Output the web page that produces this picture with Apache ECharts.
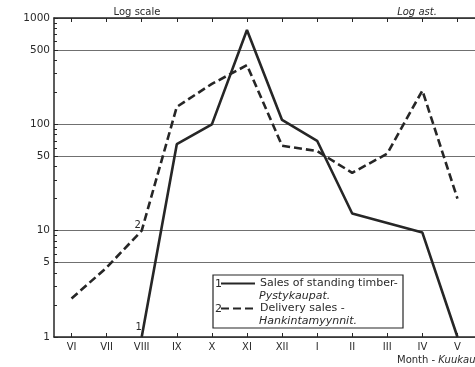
<!DOCTYPE html>
<html><head><meta charset="utf-8">
<script src="https://cdn.jsdelivr.net/npm/echarts@6/dist/echarts.min.js"></script>
<style>html,body{margin:0;padding:0;background:#fff}#c{width:475px;height:367px}</style>
</head><body><div id="c"></div>
<script>
const months = ['VI','VII','VIII','IX','X','XI','XII','I','II','III','IV','V'];
const standingTimber = [null, null, 1, 65, 100, 770, 110, 70, 14.5, 11.8, 9.6, 1];
const deliverySales = [2.3, 4.5, 10, 146, 240, 360, 63, 56, 35, 53, 208, 20];
const yLabelValues = [1, 5, 10, 50, 100, 500, 1000];
const yMinorValues = [2,3,4,6,7,8,9,20,30,40,60,70,80,90,200,300,400,600,700,800,900];
const seriesNames = ['Sales of standing timber-', 'Delivery sales -'];
const seriesNamesFi = ['Pystykaupat.', 'Hankintamyynnit.'];

const ink = '#262626';
const txt = '#2a2a2a';
const font = 'DejaVu Sans, Verdana, sans-serif';

const chart = echarts.init(document.getElementById('c'), null, {renderer: 'canvas'});
chart.setOption({
  backgroundColor: '#fff',
  animation: false,
  textStyle: {fontFamily: font, color: txt},
  title: [
    {text: 'Log scale', left: 132, top: 2, textAlign: 'center',
     textStyle: {fontSize: 10, fontWeight: 'normal', color: txt, fontFamily: font}},
    {text: 'Log ast.', left: 412, top: 2, textAlign: 'center',
     textStyle: {fontSize: 10, fontWeight: 'normal', fontStyle: 'italic', color: txt, fontFamily: font}},
    {text: '{a|Month - }{b|Kuukausi}', left: 392, top: 350,
     textStyle: {fontSize: 10, fontWeight: 'normal', color: txt, fontFamily: font,
       rich: {a: {fontSize: 10, color: txt, fontFamily: font}, b: {fontSize: 10, color: txt, fontStyle: 'italic', fontFamily: font}}}}
  ],
  grid: {left: 54, top: 18, width: 433, height: 319, containLabel: false, show: false},
  legend: {
    orient: 'vertical', left: 213, top: 275,
    padding: [3, 5, 3, 7],
    itemWidth: 34, itemHeight: 12, itemGap: 14,
    itemStyle: {opacity: 0},
    textStyle: {fontSize: 11, color: txt, fontFamily: font},
    data: seriesNames,
    selectedMode: false
  },
  xAxis: [
    {type: 'category', data: months, position: 'bottom', boundaryGap: true,
     axisLine: {show: true, lineStyle: {color: ink, width: 1.5}},
     axisTick: {show: true, inside: true, alignWithLabel: true, length: 4, lineStyle: {color: ink}},
     axisLabel: {show: true, fontSize: 10, color: txt, fontFamily: font, margin: 5},
     splitLine: {show: false}},
    {type: 'category', data: months, position: 'top', boundaryGap: true,
     axisLine: {show: true, lineStyle: {color: ink, width: 1.5}},
     axisTick: {show: true, inside: true, alignWithLabel: true, length: 4, lineStyle: {color: ink}},
     axisLabel: {show: false}, splitLine: {show: false}}
  ],
  yAxis: [
    {type: 'log', logBase: 10, min: 1, max: 1000, position: 'left',
     axisLine: {show: true, lineStyle: {color: ink, width: 1.5}},
     axisTick: {show: true, inside: true, length: 4, customValues: yLabelValues, lineStyle: {color: ink}},
     axisLabel: {show: true, fontSize: 10.5, color: txt, fontFamily: font, margin: 4,
       customValues: yLabelValues, formatter: v => String(Math.round(v))},
     splitLine: {show: true, lineStyle: {color: '#707070', width: 1}}},
    {type: 'log', logBase: 10, min: 1, max: 1000, position: 'left',
     axisLine: {show: false},
     axisTick: {show: true, inside: true, length: 3, customValues: yMinorValues, lineStyle: {color: ink}},
     axisLabel: {show: false}, splitLine: {show: false}}
  ],
  series: [
    {name: seriesNames[0], type: 'line', data: standingTimber, xAxisIndex: 0, yAxisIndex: 0,
     symbol: 'none', lineStyle: {color: ink, width: 2.6}, itemStyle: {color: ink},
     markPoint: {symbol: 'circle', symbolSize: 1, itemStyle: {color: 'rgba(0,0,0,0)'},
       label: {show: true, formatter: '1', position: 'top', offset: [-3, 0], distance: 4, fontSize: 10, color: txt, fontFamily: font},
       data: [{coord: [months[2], standingTimber[2]]}]}},
    {name: seriesNames[1], type: 'line', data: deliverySales, xAxisIndex: 0, yAxisIndex: 0,
     symbol: 'none', lineStyle: {color: ink, width: 2.6, type: [8, 4]}, itemStyle: {color: ink},
     markPoint: {symbol: 'circle', symbolSize: 1, itemStyle: {color: 'rgba(0,0,0,0)'},
       label: {show: true, formatter: '2', position: 'top', offset: [-4, 0], distance: 0, fontSize: 10, color: txt, fontFamily: font},
       data: [{coord: [months[2], deliverySales[2]]}]}}
  ],
  graphic: [
    {type: 'rect', shape: {x: 213, y: 275, width: 190, height: 53}, style: {fill: 'none', stroke: ink, lineWidth: 1.2}, z: 100},
    {type: 'text', x: 215, y: 284, style: {text: '1', fontSize: 11, fill: txt, fontFamily: font, verticalAlign: 'middle'}, z: 100},
    {type: 'text', x: 215, y: 309, style: {text: '2', fontSize: 11, fill: txt, fontFamily: font, verticalAlign: 'middle'}, z: 100},
    {type: 'text', x: 259, y: 296.5, style: {text: seriesNamesFi[0], fontSize: 11, fontStyle: 'italic', fill: txt, fontFamily: font, verticalAlign: 'middle'}, z: 100},
    {type: 'text', x: 259, y: 321.5, style: {text: seriesNamesFi[1], fontSize: 11, fontStyle: 'italic', fill: txt, fontFamily: font, verticalAlign: 'middle'}, z: 100}
  ]
});
</script></body></html>
